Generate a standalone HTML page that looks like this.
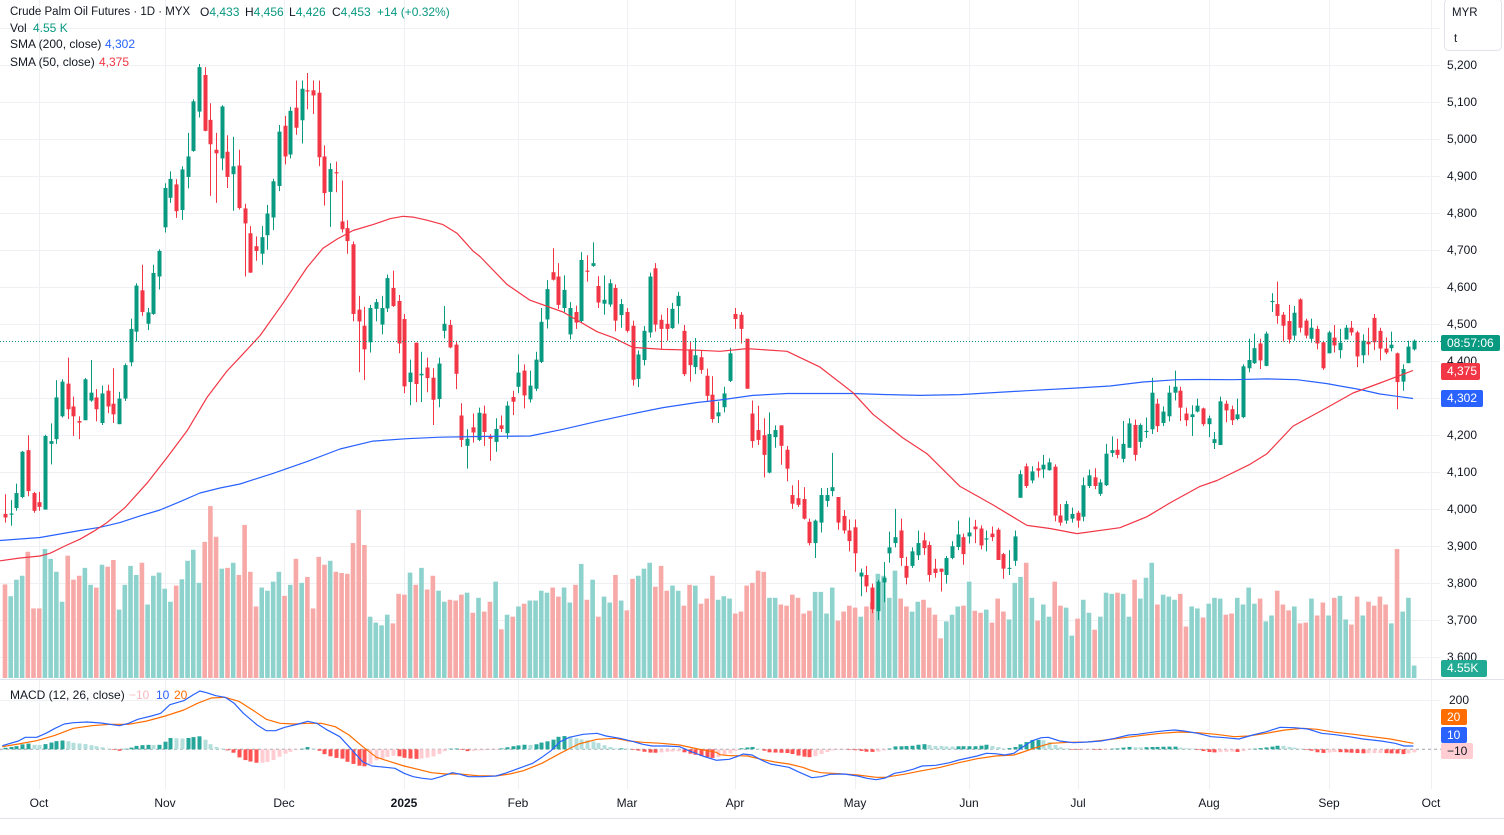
<!DOCTYPE html>
<html><head><meta charset="utf-8">
<style>
html,body{margin:0;padding:0;background:#fff;}
body{width:1504px;height:835px;overflow:hidden;position:relative;}
svg{position:absolute;left:0;top:0;}
.t{position:absolute;font-family:"Liberation Sans",sans-serif;font-size:12px;line-height:16px;color:#131722;white-space:nowrap;}
.g{color:#089981}.b{color:#2962ff}.r{color:#f23645}
.ax{position:absolute;font-family:"Liberation Sans",sans-serif;font-size:12px;line-height:16px;color:#131722;white-space:nowrap;left:1447px;}
.tm{position:absolute;font-family:"Liberation Sans",sans-serif;font-size:12px;line-height:16px;color:#131722;white-space:nowrap;top:795px;transform:translateX(-50%);}
.bx{position:absolute;left:1441px;height:16px;border-radius:2px;font-family:"Liberation Sans",sans-serif;font-size:12px;line-height:16px;color:#fff;padding-left:6px;box-sizing:border-box;white-space:nowrap;}
</style></head>
<body>
<svg id="c" width="1504" height="835" xmlns="http://www.w3.org/2000/svg">
<g stroke="#eef0f3" stroke-width="1">
<line x1="0" y1="28.5" x2="1440" y2="28.5"/><line x1="0" y1="65.5" x2="1440" y2="65.5"/><line x1="0" y1="102.5" x2="1440" y2="102.5"/><line x1="0" y1="139.5" x2="1440" y2="139.5"/><line x1="0" y1="176.5" x2="1440" y2="176.5"/><line x1="0" y1="213.5" x2="1440" y2="213.5"/><line x1="0" y1="250.5" x2="1440" y2="250.5"/><line x1="0" y1="287.5" x2="1440" y2="287.5"/><line x1="0" y1="324.5" x2="1440" y2="324.5"/><line x1="0" y1="361.5" x2="1440" y2="361.5"/><line x1="0" y1="398.5" x2="1440" y2="398.5"/><line x1="0" y1="435.5" x2="1440" y2="435.5"/><line x1="0" y1="472.5" x2="1440" y2="472.5"/><line x1="0" y1="509.5" x2="1440" y2="509.5"/><line x1="0" y1="546.5" x2="1440" y2="546.5"/><line x1="0" y1="583.5" x2="1440" y2="583.5"/><line x1="0" y1="620.5" x2="1440" y2="620.5"/><line x1="0" y1="657.5" x2="1440" y2="657.5"/>
<line x1="0" y1="700.5" x2="1440" y2="700.5"/>
<line x1="39.5" y1="0" x2="39.5" y2="789"/><line x1="165.5" y1="0" x2="165.5" y2="789"/><line x1="284.5" y1="0" x2="284.5" y2="789"/><line x1="404.5" y1="0" x2="404.5" y2="789"/><line x1="518.5" y1="0" x2="518.5" y2="789"/><line x1="627.5" y1="0" x2="627.5" y2="789"/><line x1="735.5" y1="0" x2="735.5" y2="789"/><line x1="855.5" y1="0" x2="855.5" y2="789"/><line x1="969.5" y1="0" x2="969.5" y2="789"/><line x1="1078.5" y1="0" x2="1078.5" y2="789"/><line x1="1209.5" y1="0" x2="1209.5" y2="789"/><line x1="1329.5" y1="0" x2="1329.5" y2="789"/><line x1="1431.5" y1="0" x2="1431.5" y2="789"/>
</g>
<line x1="0" y1="679.5" x2="1504" y2="679.5" stroke="#e0e3eb" stroke-width="1"/>
<line x1="0" y1="818.5" x2="1504" y2="818.5" stroke="#e0e3eb" stroke-width="1"/>
<line x1="0" y1="749.3" x2="1441" y2="749.3" stroke="#a0a3ab" stroke-width="1" stroke-dasharray="3 3"/>
<g id="vol"></g>
<g id="can"></g>
<g id="lines"></g>
<g id="macd"></g>
<line x1="0" y1="341.5" x2="1441" y2="341.5" stroke="#089981" stroke-width="1" stroke-dasharray="1 2"/>
</svg>

<!-- legend -->
<div class="t" style="left:10px;top:3.5px;font-size:11.5px;">Crude Palm Oil Futures · 1D · MYX</div>
<div class="t" style="left:200px;top:3.5px;">O<span class="g">4,433</span></div>
<div class="t" style="left:245px;top:3.5px;">H<span class="g">4,456</span></div>
<div class="t" style="left:289px;top:3.5px;">L<span class="g">4,426</span></div>
<div class="t" style="left:332px;top:3.5px;">C<span class="g">4,453</span></div>
<div class="t g" style="left:377px;top:3.5px;">+14 (+0.32%)</div>
<div class="t" style="left:10px;top:20px;">Vol</div>
<div class="t g" style="left:33px;top:20px;">4.55 K</div>
<div class="t" style="left:10px;top:36px;">SMA (200, close)</div>
<div class="t b" style="left:105px;top:36px;">4,302</div>
<div class="t" style="left:10px;top:53.5px;">SMA (50, close)</div>
<div class="t r" style="left:99px;top:53.5px;">4,375</div>

<div class="t" style="left:10px;top:687px;">MACD (12, 26, close)</div>
<div class="t" style="left:129px;top:687px;color:#f9b8c0;">−10</div>
<div class="t b" style="left:156px;top:687px;">10</div>
<div class="t" style="left:174px;top:687px;color:#ff6d00;">20</div>

<!-- MYR box -->
<div style="position:absolute;left:1444px;top:-2px;width:56px;height:51px;border:1px solid #e0e3eb;border-radius:5px;"></div>
<div class="t" style="left:1452px;top:5px;font-size:11.5px;">MYR</div>
<div class="t" style="left:1454px;top:31px;font-size:11.5px;">t</div>

<!-- price axis -->
<div class="ax" style="top:57px;">5,200</div>
<div class="ax" style="top:94px;">5,100</div>
<div class="ax" style="top:131px;">5,000</div>
<div class="ax" style="top:168px;">4,900</div>
<div class="ax" style="top:205px;">4,800</div>
<div class="ax" style="top:242px;">4,700</div>
<div class="ax" style="top:279px;">4,600</div>
<div class="ax" style="top:316px;">4,500</div>
<div class="ax" style="top:353px;">4,400</div>
<div class="ax" style="top:427px;">4,200</div>
<div class="ax" style="top:464px;">4,100</div>
<div class="ax" style="top:501px;">4,000</div>
<div class="ax" style="top:538px;">3,900</div>
<div class="ax" style="top:575px;">3,800</div>
<div class="ax" style="top:612px;">3,700</div>
<div class="ax" style="top:649px;">3,600</div>
<div class="ax" style="top:692px;left:1449px;">200</div>

<div class="bx" style="top:335px;width:59px;background:#089981;">08:57:06</div>
<div class="bx" style="top:363px;width:39px;height:17px;line-height:17px;background:#f23645;">4,375</div>
<div class="bx" style="top:390px;width:42px;height:17px;line-height:17px;background:#2962ff;">4,302</div>
<div class="bx" style="top:660px;width:46px;height:17px;line-height:17px;background:#22ab94;">4.55K</div>
<div class="bx" style="top:709px;width:26px;background:#ff6d00;">20</div>
<div class="bx" style="top:726.5px;width:26px;background:#2962ff;">10</div>
<div class="bx" style="top:743px;width:32px;background:#ffcdd2;color:#131722;">−10</div>

<!-- time axis -->
<div class="tm" style="left:39px;">Oct</div>
<div class="tm" style="left:165px;">Nov</div>
<div class="tm" style="left:284px;">Dec</div>
<div class="tm" style="left:404px;font-weight:bold;">2025</div>
<div class="tm" style="left:518px;">Feb</div>
<div class="tm" style="left:627px;">Mar</div>
<div class="tm" style="left:735px;">Apr</div>
<div class="tm" style="left:855px;">May</div>
<div class="tm" style="left:969px;">Jun</div>
<div class="tm" style="left:1078px;">Jul</div>
<div class="tm" style="left:1209px;">Aug</div>
<div class="tm" style="left:1329px;">Sep</div>
<div class="tm" style="left:1431px;">Oct</div>

<script>
(function(){
var NS='http://www.w3.org/2000/svg';
function el(tag,a,p){var e=document.createElementNS(NS,tag);for(var k in a)e.setAttribute(k,a[k]);p.appendChild(e);return e;}
function X(i){return 5+i*5.705;}
function Z(z){return 60+z/2.54;}
var C=[
[1153,1162,1103,1175,0],[1152,1155,1118,1183,1],[1100,1138,1076,1145,1],[995,1110,993,1113,1],[991,1095,953,1108,0],
[1100,1145,1097,1150,0],[1123,1135,1097,1145,0],[955,1142,952,1142,1],[968,975,923,1027,1],[857,963,813,975,1],
[817,905,811,908,1],[822,887,756,912,0],[880,905,855,955,0],[917,921,905,963,0],[811,915,808,915,1],
[845,865,762,868,1],[857,887,836,918,0],[847,922,827,927,1],[840,880,825,897,0],[873,900,783,922,0],
[860,925,843,925,1],[775,860,771,866,1],[683,768,657,778,1],[573,690,567,715,1],[585,640,520,650,0],
[641,670,630,686,1],[541,645,520,647,1],[485,550,481,583,1],[325,425,313,438,1],[302,350,283,363,1],
[316,384,303,401,0],[278,381,270,406,1],[245,297,185,326,1],[105,231,100,233,1],[18,131,10,146,1],
[38,180,18,181,0],[152,214,110,345,0],[228,237,185,363,0],[118,250,115,280,1],[233,297,191,325,0],
[270,290,195,383,1],[268,376,228,380,0],[377,415,365,550,0],[440,540,422,541,0],[473,485,448,510,0],
[450,492,422,520,1],[390,445,368,482,1],[308,400,302,432,1],[182,320,165,333,1],[167,245,142,265,0],
[129,240,119,250,1],[121,172,52,190,0],[73,153,52,212,1],[77,80,33,125,0],[77,90,52,137,0],
[83,247,52,270,0],[245,338,217,370,0],[277,335,262,424,1],[285,288,258,336,0],[410,430,306,438,0],
[427,460,407,492,0],[468,645,461,664,0],[634,664,599,793,0],[675,735,627,813,0],[630,717,622,743,1],
[615,632,607,664,1],[630,672,599,697,1],[554,631,545,640,1],[579,625,535,627,0],[612,720,597,745,0],
[658,829,645,846,0],[794,818,761,877,1],[718,823,718,869,0],[797,801,741,869,1],[781,808,756,844,0],
[807,863,783,927,0],[771,861,756,882,1],[670,688,625,707,1],[673,730,660,732,0],[723,797,713,836,0],
[903,965,872,983,0],[962,980,938,1038,1],[933,946,898,972,0],[896,965,883,968,1],[898,945,878,980,0],
[957,962,950,1018,0],[937,970,910,995,1],[928,937,903,945,0],[878,948,867,962,1],[856,868,840,902,0],
[794,830,748,846,1],[789,852,773,885,0],[827,862,789,870,1],[761,835,741,841,1],[665,767,630,770,1],
[582,659,559,682,1],[539,558,478,560,0],[550,622,516,632,0],[584,630,547,641,1],[630,697,615,710,1],
[640,667,624,683,0],[508,663,488,668,1],[535,538,496,563,0],[516,523,463,525,1],[574,616,549,630,0],
[609,619,547,647,1],[567,621,557,627,1],[579,662,570,689,0],[620,648,607,680,1],[640,688,630,692,0],
[675,812,662,827,0],[748,810,738,831,1],[688,762,676,776,1],[550,692,540,705,1],[529,672,516,690,0],
[660,683,647,735,0],[670,683,630,713,0],[632,681,617,683,1],[599,625,589,670,1],[688,798,673,803,0],
[735,775,716,817,0],[750,780,706,798,1],[755,787,737,797,0],[802,853,784,866,0],[850,912,803,921,0],
[895,905,868,922,1],[847,882,830,895,1],[745,815,731,818,1],[645,658,630,683,0],[647,683,640,720,0],
[708,835,708,835,0],[898,968,865,985,0],[940,965,878,978,0],[953,1003,910,1060,0],[950,1048,895,1050,1],
[940,958,928,985,1],[928,980,928,1028,0],[990,1038,980,1070,0],[1105,1127,1080,1140,0],[1113,1130,1067,1135,0],
[1115,1165,1085,1167,0],[1173,1227,1165,1233,0],[1170,1227,1167,1265,1],[1105,1175,1087,1200,1],[1105,1120,1087,1135,1],
[1085,1095,998,1108,1],[1110,1175,1110,1193,0],[1158,1195,1143,1203,0],[1195,1222,1167,1248,0],[1187,1253,1167,1300,0],
[1302,1312,1292,1362,1],[1308,1337,1285,1352,0],[1340,1395,1330,1405,0],[1325,1400,1320,1423,1],[1315,1327,1275,1377,1],
[1238,1253,1198,1277,1],[1212,1227,1140,1238,1],[1195,1265,1165,1285,0],[1285,1315,1262,1332,0],[1248,1285,1238,1290,1],
[1227,1258,1195,1270,1],[1220,1240,1200,1257,0],[1232,1308,1223,1325,0],[1292,1303,1267,1315,0],[1292,1300,1292,1350,0],
[1265,1308,1260,1330,1],[1235,1265,1222,1268,1],[1205,1237,1170,1245,1],[1212,1255,1203,1282,0],[1200,1210,1162,1228,1],
[1185,1192,1168,1227,0],[1190,1233,1182,1243,0],[1215,1218,1195,1248,1],[1203,1212,1185,1222,0],[1193,1270,1188,1270,0],
[1255,1292,1252,1318,0],[1290,1292,1245,1308,1],[1210,1272,1195,1285,1],[1052,1112,1042,1112,1],[1032,1082,1025,1087,0],
[1045,1068,1032,1075,1],[1037,1043,1020,1060,0],[1028,1040,1003,1062,1],[1022,1042,1012,1043,1],[1033,1157,1027,1172,0],
[1157,1175,1128,1183,0],[1128,1170,1120,1178,1],[1153,1165,1137,1175,1],[1150,1170,1145,1188,0],[1080,1160,1060,1172,1],
[1055,1082,1040,1087,1],[1060,1082,1037,1090,0],[1073,1102,1065,1107,1],[1000,1080,975,1082,1],[991,998,956,1008,1],
[990,1003,962,1012,0],[975,1013,917,1022,1],[923,985,910,985,1],[927,1003,913,1018,0],[927,970,923,985,1],
[942,945,908,960,1],[845,938,807,950,1],[873,930,860,945,0],[893,922,880,930,1],[845,905,827,918,1],
[830,845,789,865,1],[840,883,830,917,0],[898,915,883,930,0],[900,907,877,955,1],[878,893,860,895,1],
[885,925,883,930,0],[910,925,903,958,1],[963,973,945,988,1],[867,978,855,978,1],[873,890,865,920,0],
[887,915,878,927,0],[900,912,860,915,1],[778,907,773,910,1],[762,783,708,793,1],[732,770,695,772,1],
[720,763,708,785,0],[695,777,690,778,1],[612,615,592,640,1],[620,650,563,670,0],[647,675,640,715,0],
[663,710,622,720,0],[642,700,625,713,1],[608,680,605,692,0],[662,700,657,707,0],[680,708,657,718,1],
[683,720,675,735,0],[717,783,713,787,0],[692,745,688,745,1],[705,725,673,743,0],[718,737,683,758,1],
[680,710,673,710,1],[680,692,663,700,0],[692,753,688,780,0],[713,750,697,770,1],[715,722,680,750,0],
[655,717,645,737,0],[688,733,680,763,0],[733,743,705,747,0],[723,732,690,740,1],[745,818,743,887,0],
[785,817,773,840,1],[728,770,713,770,1],[713,735,710,738,1]
];
var V=[1332,1362,1320,1310,1249,1393,1393,1242,1267,1300,1376,1259,1320,1310,1290,1333,1340,1282,1287,1270,1396,1333,1285,1308,1277,1383,1310,1302,1343,1376,1335,1319,1272,1244,1328,1224,1133,1211,1292,1290,1277,1308,
1181,1300,1388,1340,1348,1325,1300,1361,1333,1267,1328,1313,1393,1262,1282,1272,1300,1303,1305,1227,1143,1232,1414,1429,1436,1409,1431,1356,1358,1302,1333,1290,1345,1310,1348,1376,1371,1373,1358,1353,1404,1366,
1401,1376,1325,1446,1409,1414,1388,1381,1373,1373,1348,1353,1340,1363,1340,1378,1333,1280,1371,1320,1414,1363,1378,1308,1373,1398,1318,1310,1292,1277,1338,1285,1348,1335,1348,1386,1333,1335,1381,1368,1310,1371,
1362,1368,1406,1401,1335,1328,1297,1300,1366,1366,1383,1386,1358,1366,1406,1399,1351,1351,1406,1340,1424,1401,1386,1391,1414,1388,1378,1305,1310,1366,1297,1368,1388,1401,1376,1371,1391,1409,1469,1426,1409,1388,
1386,1325,1399,1404,1396,1429,1368,1401,1421,1328,1313,1277,1366,1424,1383,1414,1325,1386,1391,1462,1419,1371,1404,1447,1414,1353,1356,1353,1356,1414,1320,1368,1315,1277,1383,1358,1363,1371,1356,1439,1388,1393,
1416,1381,1366,1368,1409,1406,1366,1383,1340,1381,1368,1426,1411,1348,1383,1398,1388,1431,1429,1368,1411,1378,1411,1366,1361,1421,1434,1363,1411,1376,1386,1363,1383,1431,1242,1401,1366,1538];
var gv=document.getElementById('vol'),gc=document.getElementById('can'),gl=document.getElementById('lines'),gm=document.getElementById('macd');
var i;
for(i=0;i<C.length;i++){
  var x=X(i),c=C[i],up=c[4]==1;
  var vt=Z(V[i]);
  el('rect',{x:(x-2.3).toFixed(2),y:vt.toFixed(2),width:4.6,height:(678-vt).toFixed(2),fill:up?'#8dd2cc':'#f7a9a7'},gv);
}
for(i=0;i<C.length;i++){
  var x=X(i),c=C[i],up=c[4]==1,col=up?'#089981':'#f23645';
  var cx=Math.round(x)+0.5;
  el('line',{x1:cx,y1:Z(c[2]).toFixed(2),x2:cx,y2:Z(c[3]).toFixed(2),stroke:col,'stroke-width':1},gc);
  var y1=Z(c[0]),y2=Z(c[1]),h=Math.max(1,y2-y1);
  el('rect',{x:cx-2,y:y1.toFixed(2),width:4,height:h.toFixed(2),fill:col},gc);
}
var S200=[[0,540.5],[40,537.5],[80,530.5],[100,527.3],[120,522.6],[140,515.9],[160,510],[180,501.7],[200,493],[220,488],[240,484],[273,473.4],[307,461.6],[340,449],[373,441.1],[407,438.7],[440,437.2],[480,436.5],[530,436],[563,429.3],[597,421.4],[630,414.3],[663,407.6],[697,402.5],[720,400],[753,395.4],[787,393.5],[853,393.5],[887,394.6],[920,395.4],[960,394.6],[1027,390.7],[1077,388],[1110,386],[1143,382],[1177,379.7],[1200,379.5],[1233,379.7],[1267,378.9],[1297,379.7],[1327,383.6],[1340,386],[1360,389.5],[1380,394],[1413,398.5]];
var S50=[[0,560.8],[20,558],[40,556],[50,553.3],[67,545],[80,539.2],[93,531.7],[107,522.6],[125,507.6],[147,483.2],[167,457.6],[187,430.9],[207,397.4],[227,371],[240,357.2],[260,335.6],[283,303.3],[307,267.5],[323,248.2],[337,239.1],[353,230.5],[373,224.6],[390,218.7],[403,216.3],[413,217.1],[427,220.2],[443,224.6],[457,233.2],[473,251],[480,256.5],[507,284.4],[530,300.2],[563,312],[597,331.7],[613,337.6],[633,347.4],[663,349.4],[697,350.2],[720,351.3],[747,348.6],[787,351.3],[820,367.1],[853,392.7],[873,414.3],[903,438],[927,453.7],[960,486.4],[993,504.9],[1027,525.4],[1050,528.5],[1077,533.6],[1120,527.7],[1147,516.7],[1170,502.9],[1200,486.4],[1217,480.5],[1250,464.3],[1267,453.7],[1293,426.1],[1327,407.6],[1353,393],[1380,383],[1413,370.5]];
function pl(pts,col,p){el('polyline',{points:pts.map(function(q){return q[0].toFixed(1)+','+q[1].toFixed(1);}).join(' '),fill:'none',stroke:col,'stroke-width':1.2,'stroke-linejoin':'round'},p);}
pl(S200,'#2962ff',gl);pl(S50,'#f23645',gl);
var B1=[[5,197],[40,183],[55,172],[80,172],[100,160],[120,145],[140,132],[160,128],[190,126],[220,129],[260,137],[280,130],[300,118],[330,108],[350,100],[370,74],[400,62],[420,45],[435,33],[450,38],[470,47],[490,52],[510,70],[530,100],[560,135],[580,152],[600,152],[620,142],[650,132],[670,124],[690,130],[710,148],[740,170],[760,200],[790,246],[810,258],[840,262],[860,265],[880,280],[900,290],[920,295],[940,298],[960,290],[985,278],[1000,282],[1020,290],[1050,290],[1080,288],[1100,280],[1130,265],[1160,250],[1180,232],[1200,212],[1220,185],[1240,172],[1270,163],[1300,160],[1320,168],[1350,175],[1380,185],[1400,193],[1420,198],[1450,198],[1480,200],[1500,212],[1530,228],[1560,241]];
var O1=[[5,200],[40,192],[80,182],[120,166],[160,145],[200,137],[240,133],[280,133],[320,123],[360,108],[400,90],[430,70],[460,54],[490,52],[520,64],[550,90],[580,118],[610,130],[640,132],[670,130],[700,130],[730,140],[760,165],[790,200],[820,232],[850,245],[880,258],[910,268],[940,278],[970,282],[1000,282],[1040,287],[1080,288],[1110,282],[1140,272],[1180,250],[1220,220],[1260,192],[1300,178],[1340,175],[1370,183],[1400,187],[1440,190],[1480,195],[1520,207],[1560,217]];
var B2=[[0,240],[20,238],[40,228],[50,222],[70,225],[90,240],[110,252],[130,257],[150,262],[170,275],[200,293],[220,290],[240,283],[270,282],[300,288],[320,295],[340,299],[360,294],[380,280],[400,275],[420,268],[440,258],[470,256],[500,248],[520,240],[540,234],[560,228],[580,220],[600,221],[620,225],[640,220],[660,200],[680,182],[700,173],[715,172],[740,183],[770,188],[800,186],[830,183],[860,175],[890,165],[910,163],[940,157],[970,152],[990,150],[1010,153],[1040,160],[1070,170],[1100,173],[1130,177],[1160,165],[1190,155],[1220,142],[1250,143],[1280,147],[1310,160],[1340,164],[1370,170],[1400,177],[1440,183],[1470,190],[1490,198],[1510,198]];
var O2=[[0,224],[20,227],[40,227],[60,228],[90,238],[120,246],[150,252],[180,262],[200,272],[220,278],[260,281],[300,285],[340,292],[360,292],[400,283],[440,272],[480,262],[520,248],[560,236],[600,228],[640,225],[660,216],[690,202],[720,190],[760,187],[800,186],[840,180],[880,173],[920,166],[960,160],[1000,156],[1040,158],[1080,163],[1120,170],[1150,168],[1190,160],[1230,150],[1270,145],[1300,148],[1340,157],[1380,163],[1420,170],[1460,177],[1490,185],[1510,190]];
function cv(a,off){return a.map(function(p){return [off+p[0]*0.4592,680+p[1]/3];});}
var B=cv(B1,0).concat(cv(B2,720)),O=cv(O1,0).concat(cv(O2,720));
function ip(pts,x){if(x<=pts[0][0])return pts[0][1];for(var k=1;k<pts.length;k++){if(x<=pts[k][0]){var a=pts[k-1],b=pts[k];return a[1]+(b[1]-a[1])*(x-a[0])/(b[0]-a[0]);}}return pts[pts.length-1][1];}
var y0=749.3,prev=0;
for(i=0;i<C.length;i++){
  var x=X(i);var h=(ip(O,x)-ip(B,x))*1.15;var col;
  if(h>=0){col=(h>=prev)?'#26a69a':'#b2dfdb';el('rect',{x:(Math.round(x)-1.5),y:(y0-Math.max(h,0.6)).toFixed(2),width:4,height:Math.max(h,0.6).toFixed(2),fill:col},gm);}
  else{col=(h<prev)?'#ff5252':'#ffcdd2';el('rect',{x:(Math.round(x)-1.5),y:y0,width:4,height:Math.max(-h,0.6).toFixed(2),fill:col},gm);}
  prev=h;
}
pl(O,'#ff6d00',gm);pl(B,'#2962ff',gm);
})();
</script>
</body></html>
